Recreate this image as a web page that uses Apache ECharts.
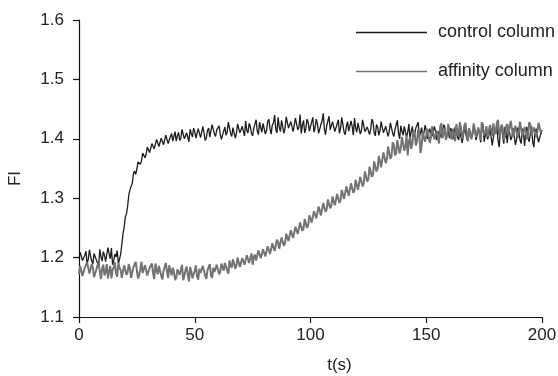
<!DOCTYPE html>
<html>
<head>
<meta charset="utf-8">
<script src="https://cdn.jsdelivr.net/npm/echarts@6/dist/echarts.min.js"></script>
<style>
html,body{margin:0;padding:0;background:#fff;}
#chart{width:558px;height:376px;}
</style>
</head>
<body>
<div id="chart"></div>
<script>
// sampling: one reading every 0.5 s, starting at t = 0 s
const startTime = 0;
const sampleStep = 0.5;

const seriesNames = ['control column', 'affinity column'];
const xTicks = [0, 50, 100, 150, 200];
const yTicks = [1.1, 1.2, 1.3, 1.4, 1.5, 1.6];

const controlFI = [
1.198,1.209,1.206,1.195,1.192,1.204,1.211,1.190,1.197,1.213,1.203,1.194,1.189,1.207,1.209,1.196,1.199,1.186,1.214,1.201,
1.194,1.210,1.204,1.193,1.191,1.217,1.207,1.198,1.216,1.188,1.195,1.206,1.201,1.212,1.190,1.197,1.206,1.222,1.240,1.251,
1.268,1.274,1.286,1.305,1.314,1.312,1.325,1.341,1.346,1.340,1.349,1.361,1.364,1.357,1.363,1.376,1.378,1.368,1.374,1.386,
1.388,1.377,1.380,1.392,1.393,1.383,1.386,1.399,1.398,1.387,1.389,1.401,1.404,1.390,1.393,1.406,1.407,1.392,1.395,1.404,
1.409,1.396,1.398,1.412,1.396,1.405,1.411,1.397,1.401,1.416,1.414,1.400,1.399,1.410,1.407,1.395,1.416,1.409,1.403,1.418,
1.412,1.401,1.398,1.417,1.419,1.402,1.405,1.421,1.410,1.397,1.401,1.414,1.418,1.403,1.406,1.424,1.422,1.408,1.404,1.415,
1.415,1.422,1.408,1.399,1.396,1.413,1.420,1.406,1.411,1.428,1.426,1.409,1.404,1.419,1.417,1.401,1.409,1.425,1.423,1.410,
1.407,1.421,1.419,1.405,1.430,1.414,1.410,1.426,1.421,1.409,1.405,1.418,1.425,1.432,1.413,1.407,1.428,1.419,1.411,1.426,
1.424,1.408,1.414,1.429,1.433,1.417,1.408,1.423,1.427,1.440,1.416,1.410,1.436,1.420,1.412,1.431,1.429,1.409,1.418,1.437,
1.440,1.418,1.415,1.429,1.426,1.412,1.411,1.435,1.434,1.415,1.420,1.441,1.409,1.423,1.431,1.410,1.417,1.433,1.428,1.413,
1.412,1.428,1.436,1.411,1.419,1.433,1.425,1.409,1.408,1.424,1.430,1.443,1.416,1.407,1.422,1.430,1.438,1.415,1.414,1.429,
1.427,1.412,1.410,1.425,1.432,1.409,1.418,1.436,1.424,1.411,1.407,1.421,1.429,1.413,1.415,1.430,1.421,1.406,1.435,1.418,
1.411,1.427,1.426,1.408,1.414,1.432,1.431,1.412,1.409,1.420,1.423,1.407,1.416,1.433,1.428,1.410,1.405,1.424,1.420,1.406,
1.413,1.429,1.426,1.410,1.408,1.421,1.419,1.404,1.412,1.427,1.424,1.409,1.404,1.416,1.417,1.431,1.410,1.400,1.422,1.413,
1.406,1.421,1.418,1.403,1.411,1.425,1.400,1.412,1.421,1.404,1.409,1.418,1.415,1.428,1.403,1.410,1.419,1.401,1.410,1.423,
1.414,1.400,1.402,1.417,1.418,1.404,1.407,1.421,1.412,1.398,1.399,1.413,1.416,1.402,1.405,1.424,1.420,1.401,1.408,1.415,
1.401,1.418,1.414,1.399,1.406,1.420,1.417,1.403,1.398,1.412,1.411,1.393,1.404,1.421,1.419,1.400,1.396,1.409,1.413,1.402,
1.407,1.422,1.415,1.398,1.400,1.416,1.410,1.394,1.417,1.425,1.395,1.406,1.412,1.399,1.405,1.419,1.418,1.389,1.402,1.414,
1.409,1.423,1.397,1.386,1.414,1.420,1.406,1.392,1.420,1.411,1.393,1.416,1.411,1.398,1.403,1.418,1.416,1.390,1.398,1.419,
1.412,1.398,1.392,1.417,1.408,1.388,1.415,1.420,1.400,1.395,1.410,1.421,1.394,1.386,1.413,1.417,1.405,1.394,1.391,1.409,
1.409
];

const affinityFI = [
1.172,1.186,1.185,1.169,1.168,1.183,1.181,1.192,1.190,1.173,1.174,1.189,1.183,1.167,1.166,1.180,1.187,1.191,1.176,1.164,
1.182,1.188,1.170,1.176,1.189,1.165,1.177,1.186,1.165,1.179,1.184,1.192,1.173,1.168,1.191,1.183,1.179,1.166,1.169,1.187,
1.186,1.171,1.175,1.189,1.182,1.166,1.167,1.184,1.188,1.193,1.178,1.165,1.171,1.180,1.193,1.174,1.176,1.187,1.184,1.170,
1.168,1.183,1.181,1.190,1.174,1.164,1.190,1.179,1.172,1.186,1.185,1.170,1.163,1.177,1.180,1.191,1.177,1.166,1.187,1.178,
1.170,1.183,1.176,1.162,1.166,1.180,1.183,1.171,1.173,1.188,1.162,1.169,1.179,1.185,1.171,1.160,1.184,1.177,1.165,1.172,
1.177,1.187,1.168,1.163,1.181,1.174,1.172,1.186,1.186,1.170,1.164,1.179,1.178,1.189,1.170,1.166,1.183,1.176,1.175,1.188,
1.188,1.172,1.176,1.190,1.184,1.178,1.191,1.194,1.179,1.173,1.195,1.187,1.183,1.197,1.190,1.181,1.186,1.200,1.198,1.184,
1.185,1.199,1.196,1.188,1.190,1.204,1.202,1.191,1.194,1.207,1.188,1.201,1.205,1.195,1.197,1.212,1.210,1.199,1.199,1.214,
1.212,1.202,1.203,1.219,1.218,1.206,1.208,1.224,1.222,1.211,1.213,1.230,1.226,1.215,1.217,1.234,1.231,1.220,1.224,1.240,
1.239,1.228,1.230,1.246,1.245,1.233,1.236,1.252,1.252,1.240,1.241,1.259,1.258,1.245,1.249,1.265,1.262,1.250,1.255,1.271,
1.271,1.259,1.262,1.278,1.279,1.266,1.268,1.286,1.285,1.271,1.274,1.292,1.290,1.277,1.281,1.298,1.296,1.283,1.287,1.303,
1.301,1.288,1.290,1.307,1.305,1.292,1.297,1.314,1.312,1.299,1.300,1.320,1.318,1.304,1.306,1.325,1.322,1.309,1.313,1.331,
1.328,1.314,1.317,1.336,1.334,1.320,1.325,1.345,1.343,1.328,1.332,1.353,1.351,1.336,1.340,1.362,1.361,1.345,1.350,1.371,
1.368,1.352,1.355,1.377,1.374,1.359,1.366,1.387,1.385,1.366,1.371,1.394,1.390,1.372,1.376,1.398,1.398,1.375,1.384,1.403,
1.400,1.380,1.387,1.406,1.372,1.395,1.403,1.383,1.392,1.414,1.410,1.389,1.395,1.416,1.408,1.376,1.388,1.410,1.412,1.395,
1.398,1.417,1.415,1.393,1.402,1.421,1.418,1.399,1.396,1.414,1.411,1.392,1.420,1.426,1.401,1.409,1.416,1.398,1.405,1.425,
1.422,1.404,1.399,1.417,1.414,1.396,1.425,1.411,1.404,1.428,1.419,1.400,1.408,1.423,1.427,1.406,1.397,1.418,1.416,1.399,
1.410,1.426,1.424,1.403,1.402,1.419,1.418,1.398,1.428,1.431,1.406,1.412,1.421,1.403,1.400,1.423,1.417,1.405,1.426,1.415,
1.408,1.427,1.432,1.406,1.412,1.424,1.419,1.398,1.403,1.421,1.425,1.409,1.411,1.430,1.429,1.405,1.405,1.422,1.420,1.401,
1.413,1.429,1.427,1.404,1.401,1.420,1.418,1.399,1.409,1.428,1.424,1.406,1.404,1.419,1.421,1.402,1.412,1.427,1.426,1.410,
1.415
];

function toPairs(values) {
  return values.map((v, i) => [startTime + i * sampleStep, v]);
}

const chart = echarts.init(document.getElementById('chart'));
const font = 'Liberation Sans, Arial, Helvetica, sans-serif';
chart.setOption({
  animation: false,
  backgroundColor: '#ffffff',
  grid: { left: 79, right: 16, top: 20, bottom: 59, containLabel: false, outerBoundsMode: 'none' },
  legend: {
    orient: 'vertical',
    left: 356,
    top: 22,
    padding: 0,
    itemWidth: 71,
    itemHeight: 1.6,
    itemGap: 18,
    icon: 'rect',
    textStyle: { fontFamily: font, fontSize: 18, color: '#222', lineHeight: 21, padding: [0, 0, 0, 6] },
    data: seriesNames
  },
  xAxis: {
    type: 'value',
    min: xTicks[0],
    max: xTicks[xTicks.length - 1],
    interval: xTicks[1] - xTicks[0],
    name: 't(s)',
    nameLocation: 'middle',
    nameGap: 40,
    nameTextStyle: { fontFamily: font, fontSize: 17, color: '#222', padding: [0, 0, 0, 58] },
    axisLine: { onZero: false, lineStyle: { color: '#111', width: 1.2 } },
    axisTick: { show: true, length: 6, inside: false, lineStyle: { color: '#111', width: 1.2 } },
    axisLabel: { fontFamily: font, fontSize: 17, color: '#222', margin: 10 },
    splitLine: { show: false }
  },
  yAxis: {
    type: 'value',
    min: yTicks[0],
    max: yTicks[yTicks.length - 1],
    interval: 0.1,
    name: 'FI',
    nameLocation: 'middle',
    nameGap: 55,
    nameRotate: 90,
    nameTextStyle: { fontFamily: font, fontSize: 17, color: '#222', padding: [0, 20, 0, 0] },
    axisLine: { show: true, lineStyle: { color: '#111', width: 1.2 } },
    axisTick: { show: true, length: 6, inside: false, lineStyle: { color: '#111', width: 1.2 } },
    axisLabel: { fontFamily: font, fontSize: 17, color: '#222', margin: 15, formatter: v => v.toFixed(1) },
    splitLine: { show: false }
  },
  series: [
    {
      name: seriesNames[0],
      type: 'line',
      symbol: 'none',
      showSymbol: false,
      data: toPairs(controlFI),
      lineStyle: { color: '#1c1a1a', width: 1.3 },
      itemStyle: { color: '#1c1a1a' },
      z: 2
    },
    {
      name: seriesNames[1],
      type: 'line',
      symbol: 'none',
      showSymbol: false,
      data: toPairs(affinityFI),
      lineStyle: { color: '#737373', width: 2 },
      itemStyle: { color: '#737373' },
      z: 3
    }
  ]
});
</script>
</body>
</html>
